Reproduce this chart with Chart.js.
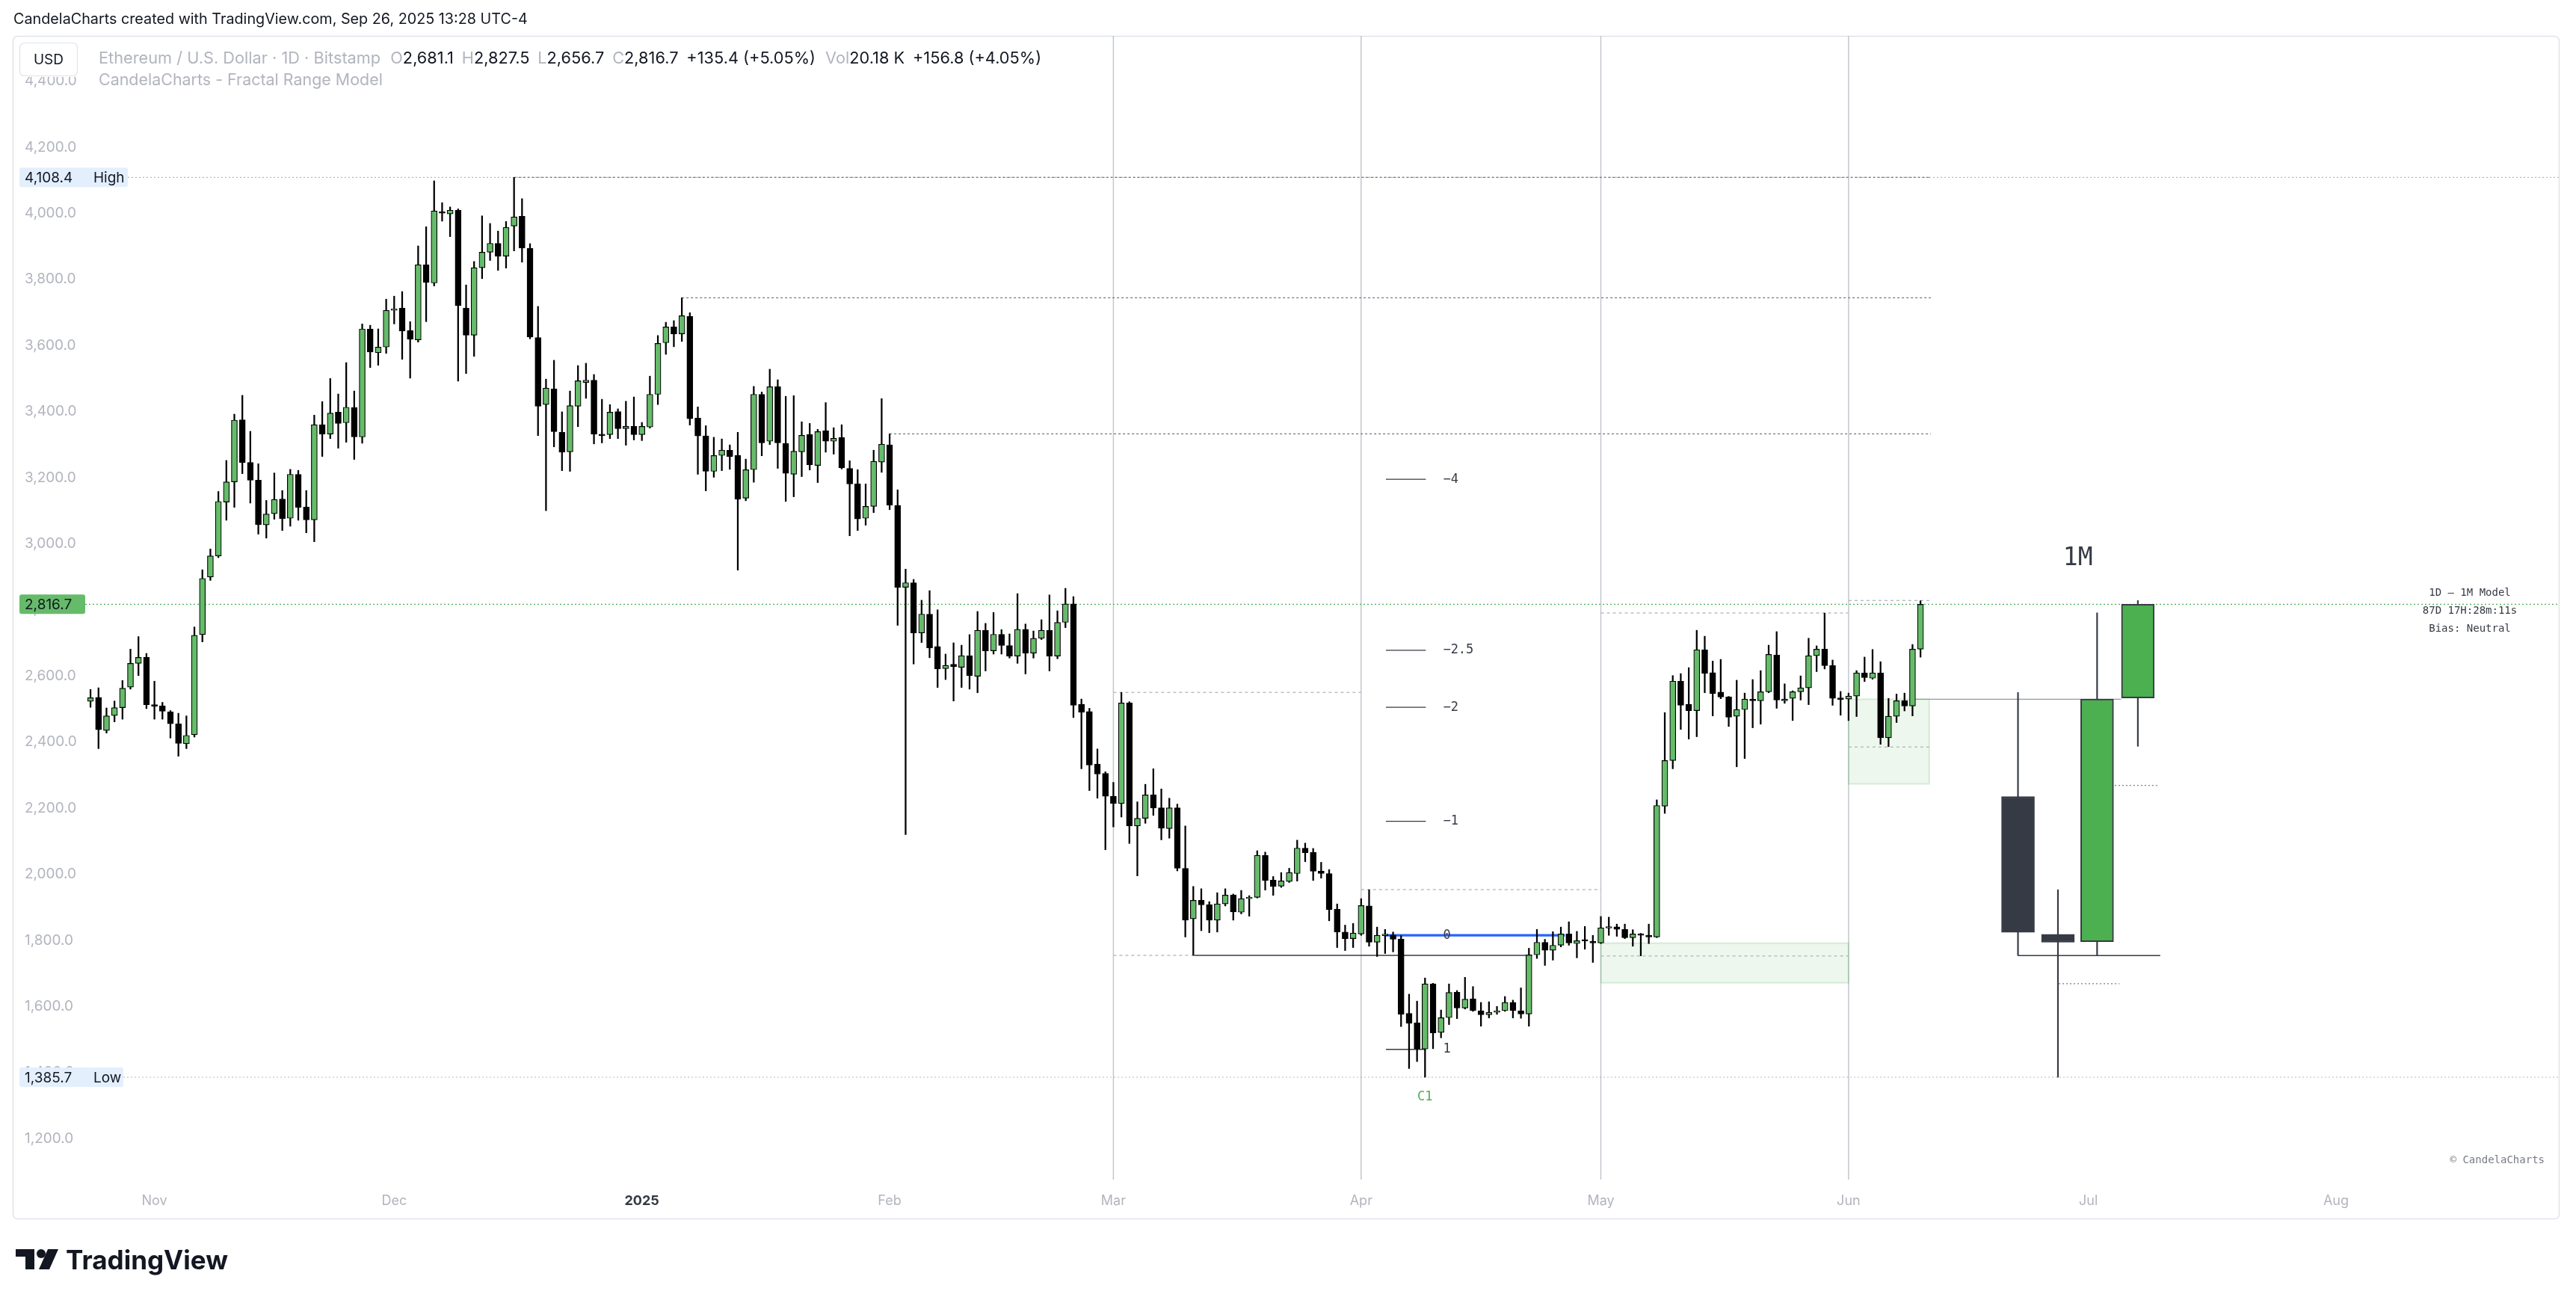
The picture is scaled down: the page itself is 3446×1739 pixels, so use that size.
<!DOCTYPE html>
<html>
<head>
<meta charset="utf-8">
<title>ETHUSD 1D - CandelaCharts Fractal Range Model</title>
<script src="https://cdn.jsdelivr.net/npm/chart.js@4.4.1/dist/chart.umd.min.js"></script>
<style>
  html, body { margin: 0; padding: 0; background: #fff; }
  canvas { display: block; }
</style>
</head>
<body>
<canvas id="chart" width="3446" height="1739"></canvas>
<script>
// day numbers are counted from Nov 1 2024 (day 0); first candle is Oct 24
const firstDay = -8;

const opens = [
  2523, 2535, 2435, 2480, 2504, 2566, 2638, 2656,
  2513, 2509, 2491, 2455, 2395, 2422, 2725, 2899, 2963, 3126,
  3187, 3375, 3246, 3192, 3057, 3091, 3135, 3077, 3210, 3111,
  3072, 3360, 3332, 3398, 3366, 3412, 3323, 3650, 3578, 3595,
  3706, 3713, 3645, 3617, 3844, 3789, 4004, 3998, 4009, 3713,
  3631, 3835, 3882, 3909, 3870, 3961, 3991, 3894, 3624, 3421,
  3468, 3337, 3278, 3416, 3488, 3495, 3331, 3330, 3400, 3348,
  3355, 3330, 3353, 3452, 3608, 3656, 3635, 3688, 3380, 3326,
  3219, 3267, 3283, 3267, 3138, 3224, 3452, 3310, 3475, 3303,
  3210, 3278, 3330, 3237, 3342, 3310, 3321, 3228, 3181, 3077,
  3113, 3247, 3299, 3116, 2868, 2882, 2730, 2787, 2689, 2622,
  2635, 2626, 2661, 2599, 2738, 2676, 2726, 2692, 2660, 2741,
  2669, 2714, 2738, 2660, 2762, 2818, 2514, 2492, 2333, 2305,
  2236, 2214, 2518, 2146, 2169, 2240, 2201, 2138, 2201, 2018,
  1865, 1921, 1908, 1861, 1910, 1937, 1885, 1926, 1930, 2057,
  1982, 1964, 1978, 2002, 2079, 2066, 2009, 2002, 1894, 1825,
  1805, 1819, 1904, 1794, 1814, 1816, 1804, 1579, 1550, 1471,
  1668, 1521, 1566, 1643, 1595, 1623, 1587, 1575, 1582, 1587,
  1612, 1587, 1577, 1756, 1794, 1770, 1785, 1819, 1790, 1799,
  1796, 1792, 1837, 1841, 1833, 1808, 1819, 1815, 1810, 2206,
  2344, 2584, 2514, 2495, 2679, 2610, 2551, 2536, 2478, 2498,
  2528, 2525, 2552, 2663, 2525, 2532, 2552, 2564, 2661, 2681,
  2631, 2530, 2530, 2539, 2609, 2593, 2609, 2413, 2478, 2525,
  2509, 2681.1
];
const highs = [
  2559, 2564, 2503, 2524, 2586, 2681, 2719, 2668,
  2584, 2520, 2495, 2487, 2479, 2748, 2921, 2984, 3158, 3252,
  3392, 3449, 3340, 3242, 3131, 3214, 3161, 3225, 3222, 3161,
  3389, 3430, 3500, 3453, 3548, 3462, 3665, 3661, 3650, 3740,
  3749, 3763, 3672, 3901, 3959, 4098, 4032, 4019, 4013, 3783,
  3854, 3992, 3969, 3946, 3975, 4108.4, 4044, 3908, 3718, 3498,
  3555, 3399, 3462, 3539, 3546, 3512, 3437, 3421, 3408, 3431,
  3444, 3367, 3507, 3630, 3670, 3675, 3744.1, 3699, 3414, 3357,
  3322, 3317, 3299, 3337, 3256, 3476, 3459, 3528, 3496, 3446,
  3448, 3369, 3364, 3346, 3427, 3351, 3360, 3251, 3224, 3181,
  3283, 3439, 3332.4, 3163, 2923, 2892, 2829, 2858, 2800, 2666,
  2700, 2693, 2725, 2795, 2759, 2792, 2740, 2727, 2849, 2757,
  2736, 2770, 2845, 2797, 2865, 2840, 2530, 2502, 2379, 2310,
  2278, 2550, 2522, 2219, 2272, 2319, 2258, 2230, 2212, 2146,
  1963, 1956, 1917, 1944, 1956, 1940, 1951, 1935, 2071, 2067,
  1993, 2005, 2018, 2103, 2094, 2078, 2036, 2014, 1910, 1846,
  1851, 1926, 1953, 1840, 1833, 1825, 1814, 1637, 1616, 1686,
  1670, 1589, 1668, 1648, 1688, 1660, 1612, 1614, 1600, 1630,
  1619, 1656, 1776, 1833, 1803, 1826, 1840, 1856, 1827, 1842,
  1815, 1872, 1870, 1849, 1849, 1832, 1821, 1849, 2225, 2489,
  2601, 2607, 2625, 2738, 2720, 2645, 2650, 2538, 2587, 2548,
  2589, 2616, 2693, 2734, 2576, 2555, 2600, 2714, 2691, 2790,
  2648, 2553, 2548, 2616, 2657, 2680, 2643, 2532, 2545, 2548,
  2695, 2827.5
];
const lows = [
  2505, 2380, 2427, 2461, 2469, 2560, 2601, 2501,
  2469, 2469, 2412, 2357, 2380, 2415, 2703, 2889, 2958, 3071,
  3110, 3212, 3123, 3029, 3017, 3074, 3040, 3053, 3071, 3033,
  3006, 3264, 3318, 3289, 3307, 3255, 3304, 3533, 3540, 3576,
  3665, 3558, 3501, 3610, 3672, 3780, 3976, 3929, 3492, 3515,
  3567, 3802, 3857, 3827, 3834, 3886, 3852, 3620, 3327, 3100,
  3293, 3221, 3219, 3354, 3440, 3302, 3305, 3318, 3318, 3298,
  3314, 3312, 3350, 3421, 3573, 3596, 3612, 3359, 3210, 3160,
  3201, 3221, 3225, 2920, 3130, 3186, 3266, 3300, 3228, 3128,
  3142, 3203, 3223, 3185, 3277, 3271, 3226, 3024, 3040, 3056,
  3094, 3216, 3103, 2753, 2120, 2636, 2701, 2655, 2565, 2589,
  2524, 2565, 2560, 2549, 2615, 2666, 2666, 2654, 2638, 2606,
  2654, 2710, 2615, 2652, 2746, 2474, 2319, 2253, 2230, 2074,
  2143, 2173, 2093, 1995, 2154, 2178, 2104, 2109, 2010, 1810,
  1754.4, 1829, 1823, 1825, 1904, 1861, 1880, 1873, 1928, 1952,
  1936, 1960, 1975, 1979, 2038, 1981, 1988, 1859, 1778, 1769,
  1778, 1815, 1782, 1751, 1760, 1765, 1539, 1412, 1433, 1385.7,
  1472, 1505, 1545, 1563, 1592, 1585, 1540, 1565, 1576, 1585,
  1565, 1564, 1540, 1745, 1724, 1740, 1780, 1785, 1747, 1773,
  1733, 1790, 1815, 1812, 1805, 1782, 1753, 1790, 1808, 2184,
  2319, 2438, 2409, 2416, 2549, 2479, 2531, 2447, 2325, 2350,
  2443, 2454, 2549, 2502, 2517, 2465, 2527, 2513, 2613, 2621,
  2511, 2481, 2465, 2477, 2583, 2590, 2393, 2386, 2459, 2494,
  2479, 2656.7
];
const closes = [
  2534, 2437, 2479, 2504, 2563, 2638, 2656, 2513,
  2508, 2493, 2455, 2396, 2420, 2723, 2895, 2963, 3128, 3187,
  3374, 3246, 3192, 3058, 3090, 3134, 3076, 3210, 3110, 3072,
  3360, 3332, 3395, 3364, 3413, 3323, 3650, 3580, 3595, 3706,
  3710, 3644, 3619, 3844, 3791, 4007, 4000, 4009, 3721, 3631,
  3835, 3882, 3909, 3870, 3957, 3989, 3895, 3626, 3416, 3471,
  3339, 3277, 3418, 3493, 3495, 3332, 3327, 3398, 3348, 3355,
  3330, 3355, 3452, 3606, 3656, 3635, 3690, 3378, 3326, 3219,
  3267, 3283, 3264, 3135, 3224, 3452, 3305, 3475, 3305, 3213,
  3280, 3328, 3239, 3339, 3310, 3319, 3230, 3181, 3075, 3113,
  3249, 3301, 3117, 2868, 2882, 2730, 2787, 2685, 2621, 2632,
  2628, 2661, 2601, 2738, 2676, 2726, 2692, 2660, 2741, 2669,
  2714, 2738, 2660, 2762, 2818, 2511, 2490, 2330, 2303, 2236,
  2214, 2518, 2146, 2169, 2240, 2200, 2139, 2201, 2018, 1861,
  1921, 1907, 1861, 1910, 1937, 1886, 1926, 1930, 2057, 1981,
  1963, 1980, 2005, 2079, 2065, 2009, 2002, 1893, 1825, 1805,
  1822, 1905, 1794, 1815, 1816, 1803, 1576, 1549, 1471, 1668,
  1520, 1566, 1642, 1595, 1622, 1588, 1575, 1582, 1587, 1612,
  1587, 1577, 1756, 1794, 1770, 1785, 1819, 1792, 1799, 1798,
  1792, 1838, 1841, 1833, 1808, 1819, 1815, 1810, 2208, 2344,
  2584, 2511, 2495, 2679, 2608, 2547, 2536, 2475, 2498, 2530,
  2525, 2552, 2665, 2527, 2530, 2552, 2564, 2661, 2681, 2631,
  2532, 2529, 2539, 2609, 2595, 2609, 2413, 2478, 2525, 2509,
  2681.1, 2816.7
];

// axis ticks
const monthTicks = [0, 30, 61, 92, 120, 151, 181, 212, 242, 273];
const monthLabels = ['Nov', 'Dec', '2025', 'Feb', 'Mar', 'Apr', 'May', 'Jun', 'Jul', 'Aug'];
const priceTicks = [1200, 1400, 1600, 1800, 2000, 2200, 2400, 2600, 2800, 3000, 3200, 3400, 3600, 3800, 4000, 4200, 4400];

// 1M model candles (Mar, Apr, May, Jun) drawn in the projection area
const mPos = [233.2, 238.2, 243.1, 248.2];
const mOpen = [2235, 1818, 1796, 2533];
const mHigh = [2550, 1953, 2791, 2828];
const mLow = [1754, 1385.7, 1754, 2387];
const mClose = [1824, 1794, 2530, 2816.7];

// range high / low / last
const rangeHigh = 4108.4;
const rangeLow = 1385.7;
const lastPrice = 2816.7;

// swing highs carried right
const swingPrice = [4108.4, 3744.1, 3332.4];
const swingFrom = [45, 66, 92];
const swingTo = 222.3;

// previous month high / low levels
const mrPrice = [2550.1, 1754.4, 1953.4, 2790.4, 1752.7, 2828.1, 2384.8];
const mrFrom = [120, 120, 151, 181, 181, 212, 212];
const mrTo = [151, 130.1, 181, 212, 212, 222.1, 222.1];

// shaded zones
const boxFrom = [181, 212];
const boxTo = [212, 222.1];
const boxLow = [1671.4, 2273.2];
const boxHigh = [1791.5, 2529.5];

// month separators
const dividerDays = [120, 151, 181, 212];

// fractal range levels
const frLevels = [-4, -2.5, -2, -1, 0, 1];
const frPrices = [3195, 2677.5, 2505, 2160, 1815, 1470];
const frFrom = 154.1;
const frTo = 159.1;
const zeroTo = 176.5;
const c1Day = 159;
const c1Low = 1754.4;
const c1From = 130.1;
const c1To = 172.4;

// projection panel lines
const junOpen = 2529.5;
const junOpenFrom = 220.4;
const junOpenTo = 246.1;
const mLowLine = 1754;
const mLowFrom = 233.2;
const mLowTo = 251;
const projPrice = [2268.5, 1668.7];
const projFrom = [245.3, 238.3];
const projTo = [250.9, 245.9];

const days = opens.map((o, i) => firstDay + i);
const upColor = '#66bb6a';
const downColor = '#000000';

function fmt(v) {
  return v.toLocaleString('en-US', { minimumFractionDigits: 1, maximumFractionDigits: 1 });
}

function hLine(ctx, x1, x2, y, color, width, dash) {
  ctx.beginPath();
  ctx.setLineDash(dash || []);
  ctx.strokeStyle = color;
  ctx.lineWidth = width;
  ctx.moveTo(x1, y);
  ctx.lineTo(x2, y);
  ctx.stroke();
  ctx.setLineDash([]);
}

function roundRect(ctx, x, y, w, h, r) {
  ctx.beginPath();
  ctx.moveTo(x + r, y);
  ctx.arcTo(x + w, y, x + w, y + h, r);
  ctx.arcTo(x + w, y + h, x, y + h, r);
  ctx.arcTo(x, y + h, x, y, r);
  ctx.arcTo(x, y, x + w, y, r);
  ctx.closePath();
}

function fitFont(ctx, text, width, family, weight) {
  ctx.font = weight + ' 20px ' + family;
  const w = ctx.measureText(text).width;
  ctx.font = weight + ' ' + (20 * width / w).toFixed(2) + 'px ' + family;
}

const overlay = {
  id: 'overlay',
  beforeDraw(chart) {
    const ctx = chart.ctx;
    ctx.save();
    ctx.fillStyle = '#ffffff';
    ctx.fillRect(0, 0, chart.width, chart.height);
    roundRect(ctx, 17.5, 48.5, 3406, 1582, 6);
    ctx.strokeStyle = '#e0e3eb';
    ctx.lineWidth = 1.5;
    ctx.stroke();
    ctx.restore();
  },
  beforeDatasetsDraw(chart) {
    const { ctx, chartArea: a, scales: { x, y } } = chart;
    const px = v => x.getPixelForValue(v);
    const py = v => y.getPixelForValue(v);
    ctx.save();

    dividerDays.forEach(d => {
      ctx.beginPath();
      ctx.strokeStyle = '#c3c6ce';
      ctx.lineWidth = 1.5;
      ctx.moveTo(px(d), a.top);
      ctx.lineTo(px(d), a.bottom);
      ctx.stroke();
    });

    boxFrom.forEach((b, i) => {
      const x1 = px(b), x2 = px(boxTo[i]), y1 = py(boxHigh[i]), y2 = py(boxLow[i]);
      ctx.fillStyle = 'rgba(76,175,80,0.1)';
      ctx.fillRect(x1, y1, x2 - x1, y2 - y1);
      ctx.strokeStyle = 'rgba(76,175,80,0.2)';
      ctx.lineWidth = 2;
      ctx.strokeRect(x1, y1, x2 - x1, y2 - y1);
    });

    hLine(ctx, 171, a.right, py(rangeHigh), 'rgba(120,123,134,0.55)', 1.2, [2, 3]);
    hLine(ctx, 165, a.right, py(rangeLow), 'rgba(120,123,134,0.55)', 1.2, [2, 3]);
    hLine(ctx, a.left, a.right, py(lastPrice), '#4caf50', 1.3, [2, 3]);

    swingPrice.forEach((p, i) => hLine(ctx, px(swingFrom[i]), px(swingTo), py(p), '#787b86', 1.3, [3, 3]));
    mrPrice.forEach((p, i) => hLine(ctx, px(mrFrom[i]), px(mrTo[i]), py(p), '#b2b5be', 1.3, [4, 4]));

    hLine(ctx, px(c1From), px(c1To), py(c1Low), '#363a45', 1.6);
    frPrices.forEach(p => hLine(ctx, px(frFrom), px(frTo), py(p), '#363a45', 1.3));
    hLine(ctx, px(frFrom), px(zeroTo), py(frPrices[4]), '#2962ff', 3.2);

    hLine(ctx, px(junOpenFrom), px(junOpenTo), py(junOpen), '#9598a1', 1.3);
    hLine(ctx, px(mLowFrom), px(mLowTo), py(mLowLine), '#363a45', 1.5);
    projPrice.forEach((p, i) => hLine(ctx, px(projFrom[i]), px(projTo[i]), py(p), '#787b86', 1.2, [2, 3]));

    ctx.restore();
  },
  afterDraw(chart) {
    const { ctx, chartArea: a, scales: { x, y } } = chart;
    const px = v => x.getPixelForValue(v);
    const py = v => y.getPixelForValue(v);
    ctx.save();
    ctx.textBaseline = 'middle';

    // fractal level labels
    ctx.font = '17px "DejaVu Sans Mono"';
    ctx.fillStyle = '#363a45';
    ctx.textAlign = 'left';
    frLevels.forEach((l, i) => {
      ctx.fillText(String(l).replace('-', '\u2212'), px(frTo) + 23, py(frPrices[i]));
    });
    ctx.fillStyle = '#4caf50';
    ctx.textAlign = 'center';
    ctx.fillText('C1', px(c1Day), py(rangeLow) + 27);

    // 1M model
    ctx.fillStyle = '#363a45';
    ctx.font = '33px "DejaVu Sans Mono"';
    ctx.fillText('1M', px((mPos[0] + mPos[3]) / 2), py(Math.max(...mHigh)) - 56);
    ctx.font = '14px "DejaVu Sans Mono"';
    const mid = (a.top + a.bottom) / 2;
    ctx.fillText('1D \u2013 1M Model', a.right - 120, mid - 20);
    ctx.fillText('87D 17H:28m:11s', a.right - 120, mid + 4);
    ctx.fillText('Bias: Neutral', a.right - 120, mid + 28);
    ctx.textAlign = 'right';
    ctx.fillStyle = '#787b86';
    ctx.fillText('\u00a9 CandelaCharts', a.right - 20, a.bottom - 26);

    // price scale labels
    ctx.textAlign = 'left';
    ctx.font = '19px Inter';
    [[rangeHigh, 'High', 145], [rangeLow, 'Low', 139]].forEach(([v, t, w]) => {
      const yy = py(v);
      roundRect(ctx, 26, yy - 13, w, 26, 3);
      ctx.fillStyle = '#e3effd';
      ctx.fill();
      ctx.fillStyle = '#131722';
      ctx.fillText(fmt(v), 33, yy + 1);
      ctx.fillText(t, 125, yy + 1);
    });
    roundRect(ctx, 26, py(lastPrice) - 13, 88, 26, 3);
    ctx.fillStyle = '#66bb6a';
    ctx.fill();
    ctx.fillStyle = '#131722';
    ctx.fillText(fmt(lastPrice), 33, py(lastPrice) + 1);

    // header
    ctx.fillStyle = '#131722';
    fitFont(ctx, 'CandelaCharts created with TradingView.com, Sep 26, 2025 13:28 UTC-4', 688, 'Inter', 400);
    ctx.fillText('CandelaCharts created with TradingView.com, Sep 26, 2025 13:28 UTC-4', 18, 26);

    // legend backdrop hides the top of the scale
    ctx.fillStyle = 'rgba(255,255,255,0.92)';
    ctx.fillRect(22, 51, 140, 52);
    roundRect(ctx, 26.5, 57.5, 77, 44, 6);
    ctx.fillStyle = '#ffffff';
    ctx.fill();
    ctx.strokeStyle = '#e0e3eb';
    ctx.lineWidth = 1.2;
    ctx.stroke();
    ctx.fillStyle = '#131722';
    ctx.font = '19px Inter';
    ctx.textAlign = 'center';
    ctx.fillText('USD', 65, 80);
    ctx.textAlign = 'left';

    const gray = '#b2b5be', dark = '#131722';
    const parts = [
      ['Ethereum / U.S. Dollar \u00b7 1D \u00b7 Bitstamp', gray, 12],
      ['O', gray, 0], ['2,681.1', dark, 10],
      ['H', gray, 0], ['2,827.5', dark, 10],
      ['L', gray, 0], ['2,656.7', dark, 10],
      ['C', gray, 0], ['2,816.7', dark, 10],
      ['+135.4 (+5.05%)', dark, 12],
      ['Vol', gray, 0], ['20.18 K', dark, 10],
      ['+156.8 (+4.05%)', dark, 0]
    ];
    ctx.font = '20px Inter';
    let total = 0;
    parts.forEach(p => { total += ctx.measureText(p[0]).width + p[2]; });
    const size = 20 * 1261 / total;
    ctx.font = size.toFixed(2) + 'px Inter';
    let cx = 132;
    parts.forEach(p => {
      ctx.fillStyle = p[1];
      ctx.fillText(p[0], cx, 78);
      cx += ctx.measureText(p[0]).width + p[2] * size / 20;
    });
    ctx.fillStyle = gray;
    fitFont(ctx, 'CandelaCharts - Fractal Range Model', 380, 'Inter', 400);
    ctx.fillText('CandelaCharts - Fractal Range Model', 132, 108);

    // TradingView logo
    ctx.fillStyle = '#131722';
    ctx.fillRect(21, 1671, 25, 10);
    ctx.fillRect(34, 1671, 12, 27);
    ctx.beginPath();
    ctx.arc(55, 1677, 6, 0, Math.PI * 2);
    ctx.fill();
    ctx.beginPath();
    ctx.moveTo(64, 1671);
    ctx.lineTo(78, 1671);
    ctx.lineTo(66, 1698);
    ctx.lineTo(52, 1698);
    ctx.closePath();
    ctx.fill();
    ctx.textBaseline = 'alphabetic';
    fitFont(ctx, 'TradingView', 217, 'Inter', 700);
    ctx.fillText('TradingView', 88, 1698);

    ctx.restore();
  }
};

const ctx = document.getElementById('chart').getContext('2d');
const chart = new Chart(ctx, {
  type: 'bar',
  data: {
    datasets: [
      {
        label: 'wicks',
        data: days.map((d, i) => ({ x: d, y: [lows[i], highs[i]] })),
        backgroundColor: '#000000',
        barThickness: 1.6,
        grouped: false,
        order: 4
      },
      {
        label: 'bodies',
        data: days.map((d, i) => ({ x: d, y: [opens[i], closes[i]] })),
        backgroundColor: days.map((d, i) => closes[i] >= opens[i] ? upColor : downColor),
        borderColor: '#000000',
        borderWidth: 1.2,
        borderSkipped: false,
        barThickness: 8,
        minBarLength: 2,
        grouped: false,
        order: 3
      },
      {
        label: '1M wicks',
        data: mPos.map((d, i) => ({ x: d, y: [mLow[i], mHigh[i]] })),
        backgroundColor: '#363a45',
        barThickness: 1.5,
        grouped: false,
        order: 2
      },
      {
        label: '1M bodies',
        data: mPos.map((d, i) => ({ x: d, y: [mOpen[i], mClose[i]] })),
        backgroundColor: mPos.map((d, i) => mClose[i] >= mOpen[i] ? '#4caf50' : '#363a45'),
        borderColor: '#363a45',
        borderWidth: 2,
        borderSkipped: false,
        barThickness: 44,
        minBarLength: 2,
        grouped: false,
        order: 1
      }
    ]
  },
  options: {
    responsive: false,
    animation: false,
    events: [],
    layout: { padding: { left: 33, right: 22, top: 48, bottom: 108 } },
    plugins: { legend: { display: false }, tooltip: { enabled: false } },
    scales: {
      x: {
        type: 'linear',
        min: -8.662,
        max: 300.97,
        offset: false,
        grid: { display: false, drawTicks: false },
        border: { display: false },
        afterBuildTicks: s => { s.ticks = monthTicks.map(v => ({ value: v })); },
        afterFit: s => { s.height = 53; },
        ticks: {
          autoSkip: false,
          maxRotation: 0,
          padding: 18,
          color: c => (c.tick && c.tick.value === 61) ? '#363a45' : '#b2b5be',
          font: c => ({ family: 'Inter', size: 18, weight: (c.tick && c.tick.value === 61) ? 'bold' : 'normal' }),
          callback: v => monthLabels[monthTicks.indexOf(v)]
        }
      },
      y: {
        type: 'linear',
        position: 'left',
        min: 1075.8,
        max: 4536.6,
        grid: { display: false, drawTicks: false },
        border: { display: false },
        afterBuildTicks: s => { s.ticks = priceTicks.map(v => ({ value: v })); },
        afterFit: s => { s.width = 81; },
        ticks: {
          autoSkip: false,
          crossAlign: 'far',
          padding: 0,
          color: '#b2b5be',
          font: { family: 'Inter', size: 19 },
          callback: v => fmt(v)
        }
      }
    }
  },
  plugins: [overlay]
});
</script>
</body>
</html>
